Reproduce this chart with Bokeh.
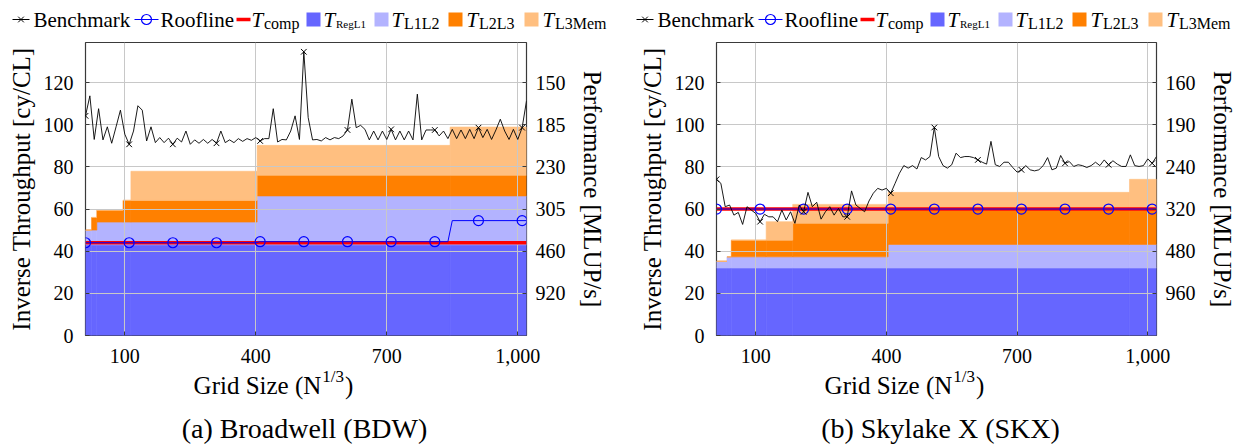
from bokeh.plotting import figure
from bokeh.models import Range1d, LinearAxis, FixedTicker, ColumnDataSource
from bokeh.layouts import row, column
from bokeh.embed import file_html
from bokeh.resources import INLINE
from bokeh.core.properties import value

FONT = "Liberation Serif"

# ---------------- data ----------------
grid_size = [10, 20, 30, 40, 50, 60, 70, 80, 90, 100,
             110, 120, 130, 140, 150, 160, 170, 180, 190, 200,
             210, 220, 230, 240, 250, 260, 270, 280, 290, 300,
             310, 320, 330, 340, 350, 360, 370, 380, 390, 400,
             410, 420, 430, 440, 450, 460, 470, 480, 490, 500,
             510, 520, 530, 540, 550, 560, 570, 580, 590, 600,
             610, 620, 630, 640, 650, 660, 670, 680, 690, 700,
             710, 720, 730, 740, 750, 760, 770, 780, 790, 800,
             810, 820, 830, 840, 850, 860, 870, 880, 890, 900,
             910, 920, 930, 940, 950, 960, 970, 980, 990, 1000,
             1010, 1020]

bdw_bench = [104.2, 113.7, 93.0, 107.6, 92.8, 99.0, 91.2, 99.0, 106.9, 95.5,
             90.7, 97.0, 109.0, 106.9, 92.3, 99.0, 91.5, 93.9, 91.5, 93.6,
             90.7, 93.6, 91.8, 97.0, 90.7, 92.8, 91.2, 93.0, 91.2, 93.0,
             91.2, 97.0, 91.5, 92.8, 91.5, 93.4, 92.1, 93.4, 92.6, 93.9,
             92.3, 93.4, 93.4, 107.6, 91.8, 93.0, 92.8, 97.0, 104.2, 93.0,
             134.6, 103.4, 92.8, 93.0, 92.3, 93.9, 92.8, 93.9, 93.4, 94.7,
             97.5, 112.1, 98.6, 99.7, 97.8, 92.8, 97.0, 92.8, 97.0, 93.0,
             97.8, 92.8, 97.0, 92.8, 97.0, 92.8, 114.5, 92.8, 97.5, 97.5,
             97.5, 94.7, 97.0, 93.4, 97.8, 93.4, 97.5, 93.4, 97.8, 93.4,
             98.6, 93.9, 97.8, 93.0, 97.5, 102.6, 97.0, 93.0, 97.8, 93.0,
             98.6, 111.3]

skx_bench = [74.1, 72.2, 61.1, 61.9, 57.1, 58.4, 52.7, 61.1, 59.5, 57.9,
             54.0, 57.5, 56.3, 56.3, 54.0, 59.5, 54.8, 58.7, 53.2, 61.9,
             58.7, 67.9, 61.1, 63.2, 55.2, 58.7, 61.1, 57.1, 60.3, 56.3,
             56.3, 68.6, 61.9, 60.3, 58.7, 63.8, 67.5, 69.8, 69.0, 69.8,
             67.5, 72.2, 77.0, 80.6, 79.4, 80.6, 79.0, 84.4, 83.3, 84.9,
             98.7, 84.9, 80.6, 79.4, 81.0, 86.5, 84.4, 84.9, 84.9, 84.4,
             83.3, 82.2, 81.3, 92.1, 81.0, 80.2, 82.2, 82.2, 79.7, 77.5,
             78.6, 80.6, 78.6, 78.1, 78.6, 80.6, 84.4, 78.6, 79.4, 85.4,
             81.7, 82.5, 80.2, 81.0, 80.6, 79.7, 80.6, 82.2, 80.6, 83.3,
             81.0, 82.9, 81.3, 80.2, 80.2, 85.7, 80.6, 80.2, 80.6, 83.8,
             81.7, 84.9]

mark_every = 10  # benchmark markers on every 10th grid size

bdw_roof_x = [10, 400, 410, 840, 850, 1020]
bdw_roof_y = [44.0, 44.0, 44.5, 44.5, 54.5, 54.5]
bdw_roof_mark_x = [10, 110, 210, 310, 410, 510, 610, 710, 810, 910, 1010]
bdw_roof_mark_y = [44.0, 44.0, 44.0, 44.0, 44.5, 44.5, 44.5, 44.5, 44.5, 54.5, 54.5]

skx_roof_x = [10, 1020]
skx_roof_y = [60.0, 60.0]
skx_roof_mark_x = [10, 110, 210, 310, 410, 510, 610, 710, 810, 910, 1010]
skx_roof_mark_y = [60.0, 60.0, 60.0, 60.0, 60.0, 60.0, 60.0, 60.0, 60.0, 60.0, 60.0]

bdw_tcomp = 44.0
skx_tcomp = 60.0

bdw_seg_start = [10, 24, 36, 96, 114, 403, 845]
bdw_seg_end = [24, 36, 96, 114, 403, 845, 1020]
bdw_RegL1 = [43.0, 43.0, 43.0, 43.0, 43.0, 43.0, 43.0]
bdw_L1L2 = [7.0, 7.0, 10.8, 10.8, 10.8, 23.2, 23.2]
bdw_L2L3 = [0.0, 6.0, 5.6, 10.3, 10.3, 9.8, 9.8]
bdw_L3Mem = [0.0, 0.0, 0.0, 0.0, 13.8, 14.2, 22.9]

skx_seg_start = [10, 34, 44, 124, 185, 404, 958]
skx_seg_end = [34, 44, 124, 185, 404, 958, 1020]
skx_RegL1 = [32.0, 32.0, 32.0, 32.0, 32.0, 32.0, 32.0]
skx_L1L2 = [3.2, 5.3, 5.3, 5.3, 5.3, 11.2, 11.2]
skx_L2L3 = [0.0, 0.0, 7.9, 7.9, 15.9, 16.3, 16.3]
skx_L3Mem = [0.0, 0.0, 0.0, 8.8, 9.0, 8.4, 14.6]

x_ticks = [100, 400, 700, 1000]
x_tick_labels = ["100", "400", "700", "1,000"]
y_ticks = [0, 20, 40, 60, 80, 100, 120]
perf_ticks = [20, 40, 60, 80, 100, 120]
bdw_perf_labels = ["920", "460", "305", "230", "185", "150"]
skx_perf_labels = ["960", "480", "320", "240", "190", "160"]

legend_labels = ["Benchmark", "Roofline"]
legend_subscripts = ["comp", "RegL1", "L1L2", "L2L3", "L3Mem"]
y_label = "Inverse Throughput [cy/CL]"
y2_label = "Performance [MLUP/s]"
x_label_parts = ["Grid Size (N", "1/3", ")"]
captions = ["(a) Broadwell (BDW)", "(b) Skylake X (SKX)"]

COL_REGL1 = "#6666ff"
COL_L1L2 = "#b3b3ff"
COL_L2L3 = "#ff8000"
COL_L3MEM = "#ffbf80"
GRID = "#c8c8c8"

# ---------------- geometry (page pixels) ----------------
PAGE_H = 446
LEG_H = 36
TOP_B, FRAME_H = 6, 293
FRAME_TOP = LEG_H + TOP_B                 # 42
FRAME_BOT = FRAME_TOP + FRAME_H           # 335
BOT_B = PAGE_H - FRAME_BOT                # 111 (x label + caption live here)
PANELS = [dict(x0=0, bl=85, fw=441, br=84), dict(x0=610, bl=106, fw=440, br=78)]

LEG_TEXT_Y = 19
LEG_SUB_Y = 23
LEG_ICON_Y = 19
XLAB_Y = 385
CAP_Y = 428


def no_align(f):
    try:
        f.frame_align = False
    except Exception:
        pass
    return f


def main_fig(bench, roof_x, roof_y, rmx, rmy, tcomp, seg_start, seg_end, layers,
             perf_labels, g, xlab_cx, cap_cx, caption):
    p = figure(frame_width=g["fw"], frame_height=FRAME_H, x_range=Range1d(10, 1020),
               y_range=Range1d(0, 139), toolbar_location=None, output_backend="svg",
               min_border_left=g["bl"], min_border_right=g["br"], min_border_top=TOP_B,
               min_border_bottom=BOT_B,
               background_fill_color="white", border_fill_color="white")
    no_align(p)
    # page-pixel helper ranges for the texts placed below the axis
    p.extra_x_ranges = {"px": Range1d(g["x0"] + g["bl"], g["x0"] + g["bl"] + g["fw"])}
    p.extra_y_ranges = {"py": Range1d(-FRAME_BOT, -FRAME_TOP)}

    bottom = [0.0] * len(seg_start)
    for vals, col in layers:
        top = [b + v for b, v in zip(bottom, vals)]
        src = ColumnDataSource(dict(left=seg_start, right=seg_end, bottom=bottom, top=top))
        r = p.quad(left="left", right="right", bottom="bottom", top="top", source=src,
                   fill_color=col, line_color=col, line_width=0.6)
        r.level = "image"
        bottom = top
    p.line([grid_size[0], grid_size[-1]], [tcomp, tcomp], line_color="#ff0000", line_width=3.6)
    p.line(roof_x, roof_y, line_color="#0000ff", line_width=1.0)
    p.scatter(rmx, rmy, marker="circle", size=10, fill_color=None,
              line_color="#0000ff", line_width=1.2)
    p.line(grid_size, bench, line_color="black", line_width=0.9)
    p.scatter(grid_size[::mark_every], bench[::mark_every], marker="x", size=8,
              line_color="black", line_width=1.0)

    p.xgrid.ticker = FixedTicker(ticks=x_ticks)
    p.ygrid.ticker = FixedTicker(ticks=y_ticks)
    for gr in (p.xgrid, p.ygrid):
        gr.grid_line_color = GRID
        gr.grid_line_width = 1

    p.outline_line_color = "#3a3a3a"
    p.outline_line_width = 1.2

    xa = p.xaxis[0]
    xa.ticker = FixedTicker(ticks=x_ticks)
    xa.major_label_overrides = dict(zip(x_ticks, x_tick_labels))
    ya = p.yaxis[0]
    ya.ticker = FixedTicker(ticks=y_ticks)
    ya.axis_label = y_label
    ya2 = LinearAxis(ticker=FixedTicker(ticks=perf_ticks),
                     major_label_overrides=dict(zip(perf_ticks, perf_labels)),
                     axis_label=y2_label)
    p.add_layout(ya2, "right")
    for ax in (xa, ya, ya2):
        ax.axis_line_color = None
        ax.major_tick_in = 4
        ax.major_tick_out = 0
        ax.major_tick_line_color = "#3a3a3a"
        ax.minor_tick_line_color = None
        ax.major_label_text_font = FONT
        ax.major_label_text_font_size = "20px"
        ax.major_label_text_color = "black"
        ax.axis_label_text_font = FONT
        ax.axis_label_text_font_size = "25px"
        ax.axis_label_text_font_style = "normal"
        ax.axis_label_text_color = "black"
    xa.major_label_standoff = 13
    ya.major_label_standoff = 12
    ya.axis_label_standoff = 6
    ya2.major_label_standoff = 9
    ya2.axis_label_standoff = 10

    # x label "Grid Size (N^{1/3})" and the sub-figure caption, in page pixels
    fs_main, fs_sup = 25, 17
    w_main = 5.11 * fs_main
    w_sup = 1.278 * fs_sup
    total = w_main + 1 + w_sup + 1 + 0.333 * fs_main
    xs = xlab_cx - total / 2
    common = dict(x_range_name="px", y_range_name="py", text_font=value(FONT),
                  text_align="left", text_baseline="alphabetic", text_color="black")
    texts = [
        p.text([xs], [-XLAB_Y], text=[x_label_parts[0]],
               text_font_size=value("%dpx" % fs_main), **common),
        p.text([xs + w_main + 1], [-(XLAB_Y - 9)], text=[x_label_parts[1]],
               text_font_size=value("%dpx" % fs_sup), **common),
        p.text([xs + w_main + 2 + w_sup], [-XLAB_Y], text=[x_label_parts[2]],
               text_font_size=value("%dpx" % fs_main), **common),
    ]
    cap = dict(common)
    cap["text_align"] = "center"
    texts.append(p.text([cap_cx], [-CAP_Y], text=[caption],
                        text_font_size=value("28px"), **cap))
    for r in texts:
        r.level = "overlay"
    return p


def legend_fig(w, dx):
    f = figure(frame_width=w, frame_height=LEG_H, x_range=Range1d(0, w),
               y_range=Range1d(0, LEG_H), x_axis_type=None, y_axis_type=None,
               toolbar_location=None, output_backend="svg", min_border=0,
               min_border_left=0, min_border_right=0, min_border_top=0,
               min_border_bottom=0, outline_line_color=None,
               background_fill_color="white", border_fill_color="white")
    no_align(f)
    X = lambda xs: [x + dx for x in xs]
    Y = lambda ys: [LEG_H - y for y in ys]
    iy = LEG_ICON_Y
    f.line(X([12, 29]), Y([iy, iy]), line_color="black", line_width=1)
    f.scatter(X([20.5]), Y([iy]), marker="x", size=8, line_color="black", line_width=1)
    f.line(X([134, 158]), Y([iy, iy]), line_color="#0000ff", line_width=1.2)
    f.scatter(X([146]), Y([iy]), marker="circle", size=10, fill_color=None,
              line_color="#0000ff", line_width=1.2)
    f.line(X([236, 250]), Y([iy, iy]), line_color="#ff0000", line_width=3.6)
    f.scatter(X([313, 381, 455, 531]), Y([iy] * 4), marker="square", size=14,
              fill_color=[COL_REGL1, COL_L1L2, COL_L2L3, COL_L3MEM], line_color=None)
    f.text(X([33, 160]), Y([LEG_TEXT_Y] * 2), text=legend_labels, text_font=value(FONT),
           text_font_size=value("21px"), text_baseline="alphabetic",
           text_align="left", text_color="black")
    tx = [251, 323, 391, 466, 542]
    f.text(X(tx), Y([LEG_TEXT_Y] * 5), text=["T"] * 5, text_font=value(FONT),
           text_font_size=value("21px"), text_font_style="italic",
           text_baseline="alphabetic", text_align="left", text_color="black")
    sub_sizes = ["16px", "11px", "16px", "16px", "16px"]
    for xt, s, fs in zip(tx, legend_subscripts, sub_sizes):
        f.text(X([xt + 12.5]), Y([LEG_SUB_Y]), text=[s], text_font=value(FONT),
               text_font_size=value(fs), text_baseline="alphabetic",
               text_align="left", text_color="black")
    return f


WA = PANELS[0]["bl"] + PANELS[0]["fw"] + PANELS[0]["br"]   # 610
WB = PANELS[1]["bl"] + PANELS[1]["fw"] + PANELS[1]["br"]   # 624
SHIFT = 624  # panel (b) legend offset relative to panel (a)

pa = main_fig(bdw_bench, bdw_roof_x, bdw_roof_y, bdw_roof_mark_x, bdw_roof_mark_y, bdw_tcomp,
              bdw_seg_start, bdw_seg_end,
              [(bdw_RegL1, COL_REGL1), (bdw_L1L2, COL_L1L2), (bdw_L2L3, COL_L2L3),
               (bdw_L3Mem, COL_L3MEM)],
              bdw_perf_labels, PANELS[0], 273, 304, captions[0])
pb = main_fig(skx_bench, skx_roof_x, skx_roof_y, skx_roof_mark_x, skx_roof_mark_y, skx_tcomp,
              skx_seg_start, skx_seg_end,
              [(skx_RegL1, COL_REGL1), (skx_L1L2, COL_L1L2), (skx_L2L3, COL_L2L3),
               (skx_L3Mem, COL_L3MEM)],
              skx_perf_labels, PANELS[1], 904, 940, captions[1])

la = legend_fig(WA, 0)
lb = legend_fig(WB, SHIFT - WA)

layout = row(column(la, pa, spacing=0), column(lb, pb, spacing=0), spacing=0)

open("out.html", "w").write(file_html(layout, INLINE))
